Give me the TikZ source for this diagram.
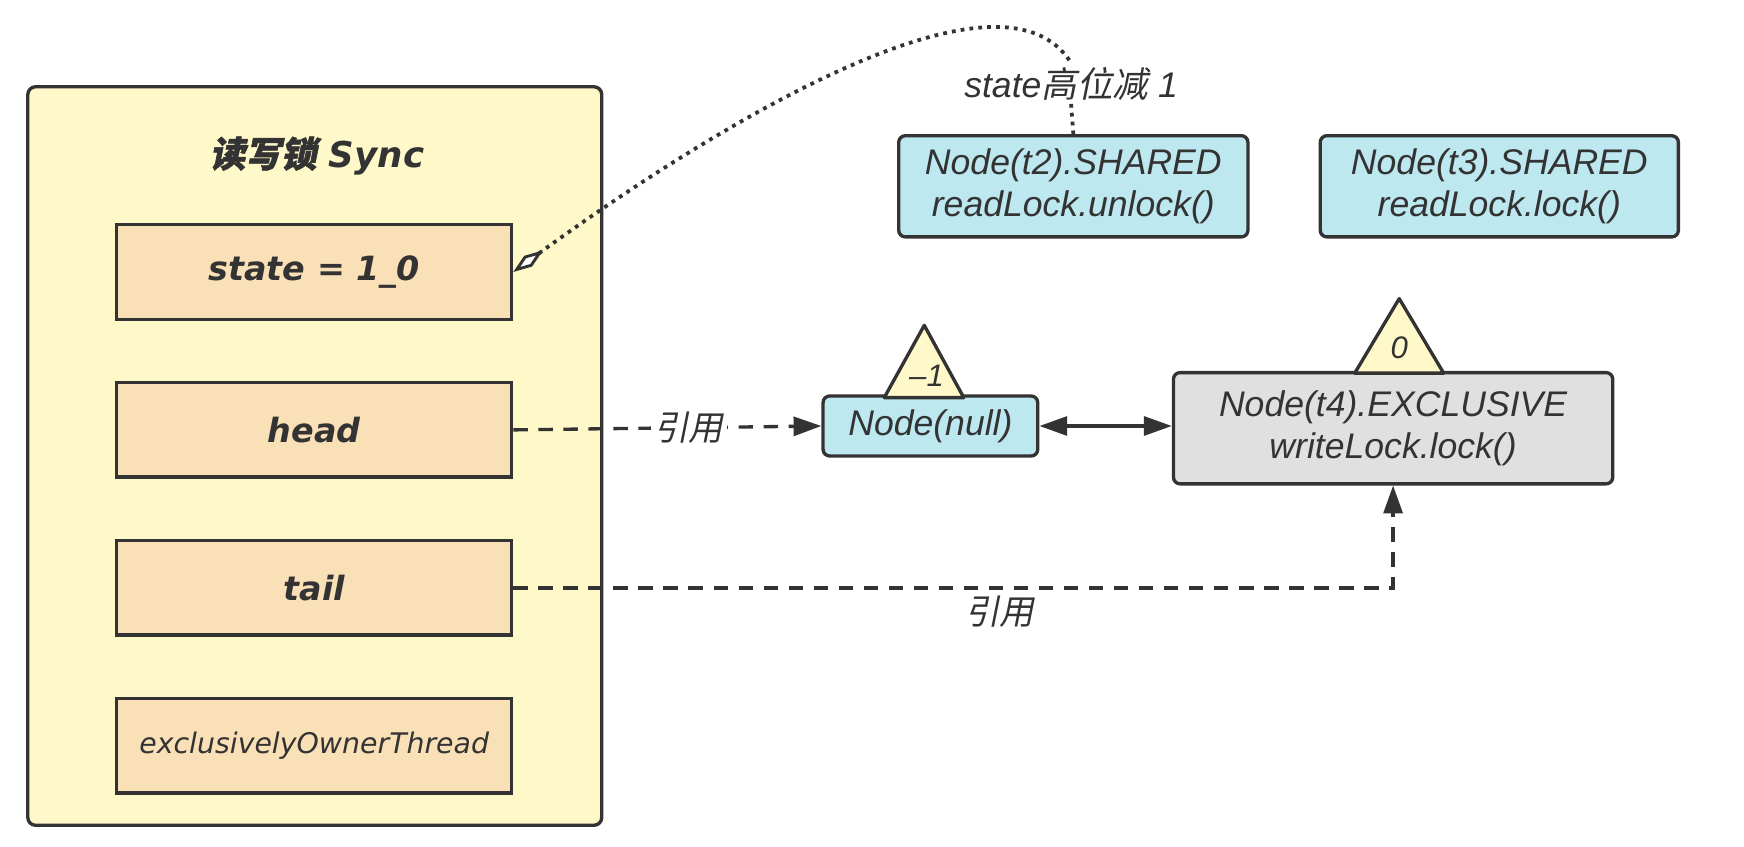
\documentclass[tikz,border=0pt]{standalone}
\usepackage{fontspec}
\setmainfont{Liberation Sans}
\newfontfamily\champfont{DejaVu Sans}
\newfontfamily\cjk{Noto Sans CJK SC}[FakeSlant=0.2]
\newfontfamily\cjkgras{Noto Sans CJK SC}[FakeSlant=0.2,FakeBold=1.5]
\usetikzlibrary{shapes}
\usetikzlibrary{arrows.meta}
\usetikzlibrary{positioning}
\definecolor{trait}{HTML}{333333}
\definecolor{jaune}{HTML}{FFF9CA}
\definecolor{peche}{HTML}{F9E0B6}
\definecolor{bleu}{HTML}{BEE8EF}
\definecolor{gris}{HTML}{E0E0E0}

\begin{document}
\begin{tikzpicture}[x=1pt,y=-1pt,line width=3pt,color=trait]
\tikzstyle{lien}=[-{Triangle[length=25pt,width=17pt]},dash pattern=on 13pt off 9.5pt]
\tikzstyle{pointille}=[line width=3.4pt,dash pattern=on 3.4pt off 4.6pt]
\tikzset{champ/.style={draw,fill=peche,minimum width=355pt,minimum height=85pt,font=\champfont\bfseries\itshape\fontsize{30}{36}\selectfont},
noeud/.style={draw,fill=#1,rounded corners=6pt,align=center,font=\itshape\fontsize{32}{38}\selectfont},
noeud/.default={bleu},
marque/.style={draw,fill=jaune,line join=round}}
\useasboundingbox (0,0) rectangle (1568,761);
% le bloc Sync
\node[draw,fill=jaune,rounded corners=7pt,minimum width=516pt,minimum height=664pt] (sync) at (283,410) {};
\node[font=\champfont\bfseries\itshape\fontsize{32}{36}\selectfont] (titre) at (285,140) {{\cjkgras 读写锁} Sync};
\node[champ] (etat) at (282.5,244.5) {state = 1\_0};
\node[champ,below=54pt of etat] (tete) {head};
\node[champ,below=54pt of tete] (queue) {tail};
\node[champ,below=54pt of queue,font=\champfont\itshape\fontsize{25.5}{28}\selectfont] (proprio) {exclusivelyOwnerThread};
% les noeuds
\node[noeud,minimum width=314pt,minimum height=91pt] (t2) at (965,167.5) {Node(t2).SHARED\\readLock.unlock()};
\node[noeud,minimum width=322pt,minimum height=91pt] (t3) at (1348,167.5) {Node(t3).SHARED\\readLock.lock()};
\node[noeud,minimum width=193pt,minimum height=54pt] (nul) at (836.5,383) {Node(null)};
\node[noeud=gris,minimum width=395pt,minimum height=100pt] (t4) at (1252.5,385) {Node(t4).EXCLUSIVE\\writeLock.lock()};
\node[font=\itshape\fontsize{32}{34}\selectfont,inner sep=2pt] (etiq) at (963,75) {state{\cjk 高位减} 1};
% les marques
\draw[marque] ([xshift=-41.5pt,yshift=-3pt]nul.north) -- ++(36,-65) -- ++(35.5,65) -- cycle;
\node[font=\itshape\fontsize{28}{30}\selectfont] (moins) at (833,338) {–1};
\draw[marque] ([xshift=-34.5pt,yshift=-2pt]t4.north) -- ++(40,-67) -- ++(40,67) -- cycle;
\node[font=\itshape\fontsize{28}{30}\selectfont] (zero) at (1258,313) {0};
% les liens
\draw[pointille,{Diamond[length=33pt,width=12pt,line width=2.6pt,fill=white]}-] (etat.east) .. controls (640,115) and (900,-45) .. (etiq.north);
\draw[pointille] (etiq.south) -- (t2.north);
\draw[lien] (tete.east) -- node[pos=0.57,fill=white,inner sep=3pt,font=\cjk\fontsize{31}{34}\selectfont] (ref1) {引用} (nul.west);
\draw[{Triangle[length=25pt,width=17pt]}-{Triangle[length=25pt,width=17pt]}] (nul.east) -- (nul.east -| t4.west);
\draw[lien] (queue.east) -| node[pos=0.2765,below=2pt,font=\cjk\fontsize{31}{34}\selectfont] (ref2) {引用} (t4.south);
\end{tikzpicture}
\end{document}
